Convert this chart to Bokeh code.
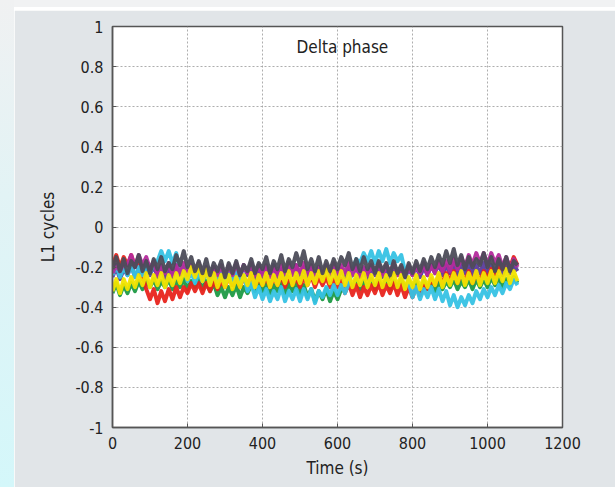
from bokeh.plotting import figure
from bokeh.models import FixedTicker, CustomJSTickFormatter, Label, Range1d, Spacer
from bokeh.layouts import row, column
from bokeh.embed import file_html
from bokeh.resources import INLINE

# ---------------- data ----------------
time_s = list(range(0, 1090, 10))  # 0 .. 1080 s, one sample every 10 s

series_blue = [
    -0.25, -0.20, -0.26, -0.21, -0.24, -0.19, -0.25, -0.21, -0.26, -0.20,
    -0.24, -0.19, -0.25, -0.20, -0.26, -0.21, -0.25, -0.19, -0.24, -0.20,
    -0.26, -0.21, -0.25, -0.20, -0.27, -0.22, -0.25, -0.20, -0.26, -0.21,
    -0.24, -0.20, -0.26, -0.21, -0.25, -0.19, -0.24, -0.20, -0.26, -0.21,
    -0.25, -0.20, -0.24, -0.19, -0.25, -0.21, -0.26, -0.20, -0.24, -0.19,
    -0.25, -0.20, -0.26, -0.21, -0.24, -0.20, -0.25, -0.19, -0.24, -0.20,
    -0.26, -0.21, -0.25, -0.20, -0.24, -0.19, -0.25, -0.21, -0.26, -0.20,
    -0.24, -0.19, -0.25, -0.20, -0.26, -0.21, -0.24, -0.20, -0.25, -0.21,
    -0.24, -0.19, -0.25, -0.20, -0.24, -0.19, -0.23, -0.18, -0.24, -0.19,
    -0.23, -0.18, -0.24, -0.19, -0.23, -0.18, -0.24, -0.19, -0.23, -0.18,
    -0.24, -0.19, -0.23, -0.18, -0.24, -0.19, -0.23, -0.19, -0.22,
]
series_green = [
    -0.33, -0.28, -0.34, -0.29, -0.33, -0.28, -0.32, -0.27, -0.31, -0.27,
    -0.30, -0.26, -0.31, -0.27, -0.30, -0.26, -0.31, -0.27, -0.30, -0.26,
    -0.31, -0.27, -0.30, -0.26, -0.31, -0.27, -0.32, -0.28, -0.34, -0.30,
    -0.35, -0.30, -0.34, -0.29, -0.35, -0.30, -0.33, -0.29, -0.32, -0.28,
    -0.32, -0.28, -0.33, -0.29, -0.32, -0.27, -0.33, -0.28, -0.32, -0.28,
    -0.33, -0.29, -0.35, -0.31, -0.37, -0.32, -0.36, -0.31, -0.37, -0.32,
    -0.36, -0.31, -0.32, -0.27, -0.30, -0.26, -0.31, -0.27, -0.30, -0.26,
    -0.31, -0.27, -0.30, -0.26, -0.31, -0.27, -0.30, -0.26, -0.31, -0.27,
    -0.30, -0.27, -0.32, -0.27, -0.31, -0.27, -0.32, -0.27, -0.31, -0.27,
    -0.30, -0.26, -0.31, -0.27, -0.30, -0.26, -0.31, -0.26, -0.30, -0.26,
    -0.30, -0.25, -0.29, -0.25, -0.30, -0.26, -0.29, -0.25, -0.28,
]
series_red = [
    -0.19, -0.14, -0.20, -0.15, -0.19, -0.14, -0.20, -0.16, -0.24, -0.31,
    -0.36, -0.31, -0.38, -0.32, -0.37, -0.31, -0.36, -0.30, -0.35, -0.30,
    -0.33, -0.28, -0.32, -0.28, -0.33, -0.28, -0.32, -0.27, -0.31, -0.27,
    -0.30, -0.25, -0.29, -0.25, -0.30, -0.25, -0.29, -0.24, -0.30, -0.25,
    -0.29, -0.25, -0.30, -0.25, -0.29, -0.24, -0.30, -0.25, -0.29, -0.25,
    -0.30, -0.25, -0.29, -0.24, -0.30, -0.25, -0.29, -0.25, -0.30, -0.26,
    -0.30, -0.26, -0.33, -0.28, -0.34, -0.29, -0.35, -0.30, -0.34, -0.29,
    -0.33, -0.28, -0.34, -0.29, -0.33, -0.28, -0.34, -0.29, -0.35, -0.30,
    -0.35, -0.30, -0.34, -0.29, -0.31, -0.26, -0.29, -0.24, -0.28, -0.23,
    -0.27, -0.22, -0.28, -0.23, -0.27, -0.22, -0.28, -0.23, -0.27, -0.22,
    -0.26, -0.21, -0.25, -0.20, -0.21, -0.16, -0.20, -0.15, -0.19,
]
series_cyan = [
    -0.24, -0.19, -0.25, -0.20, -0.24, -0.19, -0.25, -0.20, -0.24, -0.19,
    -0.23, -0.18, -0.17, -0.12, -0.17, -0.12, -0.18, -0.13, -0.22, -0.20,
    -0.27, -0.22, -0.28, -0.23, -0.27, -0.22, -0.28, -0.23, -0.27, -0.22,
    -0.28, -0.23, -0.27, -0.22, -0.28, -0.24, -0.32, -0.28, -0.35, -0.30,
    -0.36, -0.31, -0.37, -0.32, -0.36, -0.30, -0.37, -0.32, -0.36, -0.31,
    -0.37, -0.31, -0.36, -0.31, -0.38, -0.32, -0.35, -0.30, -0.34, -0.29,
    -0.34, -0.29, -0.33, -0.28, -0.22, -0.16, -0.18, -0.13, -0.17, -0.12,
    -0.18, -0.12, -0.17, -0.11, -0.18, -0.13, -0.17, -0.14, -0.22, -0.28,
    -0.35, -0.30, -0.36, -0.31, -0.35, -0.30, -0.36, -0.31, -0.37, -0.32,
    -0.39, -0.34, -0.40, -0.35, -0.39, -0.34, -0.38, -0.32, -0.36, -0.31,
    -0.35, -0.30, -0.34, -0.29, -0.33, -0.28, -0.31, -0.26, -0.29,
]
series_magenta = [
    -0.23, -0.19, -0.22, -0.18, -0.19, -0.14, -0.20, -0.14, -0.19, -0.15,
    -0.21, -0.17, -0.24, -0.19, -0.23, -0.18, -0.24, -0.19, -0.23, -0.18,
    -0.24, -0.19, -0.23, -0.18, -0.24, -0.20, -0.25, -0.20, -0.24, -0.19,
    -0.25, -0.19, -0.24, -0.18, -0.24, -0.19, -0.23, -0.18, -0.24, -0.19,
    -0.24, -0.19, -0.25, -0.20, -0.24, -0.19, -0.23, -0.18, -0.24, -0.19,
    -0.23, -0.18, -0.24, -0.19, -0.25, -0.20, -0.24, -0.19, -0.23, -0.18,
    -0.24, -0.19, -0.23, -0.18, -0.24, -0.19, -0.25, -0.20, -0.24, -0.19,
    -0.23, -0.18, -0.24, -0.19, -0.23, -0.18, -0.24, -0.20, -0.25, -0.19,
    -0.24, -0.19, -0.23, -0.18, -0.24, -0.19, -0.23, -0.17, -0.22, -0.17,
    -0.22, -0.16, -0.21, -0.15, -0.20, -0.14, -0.19, -0.13, -0.18, -0.13,
    -0.19, -0.13, -0.18, -0.14, -0.20, -0.15, -0.21, -0.16, -0.20,
]
series_yellow = [
    -0.32, -0.26, -0.33, -0.26, -0.31, -0.25, -0.30, -0.24, -0.29, -0.23,
    -0.30, -0.24, -0.29, -0.23, -0.30, -0.24, -0.29, -0.23, -0.28, -0.22,
    -0.26, -0.20, -0.25, -0.19, -0.27, -0.21, -0.29, -0.23, -0.30, -0.24,
    -0.30, -0.24, -0.31, -0.25, -0.30, -0.24, -0.29, -0.23, -0.30, -0.24,
    -0.29, -0.23, -0.30, -0.24, -0.29, -0.23, -0.28, -0.22, -0.29, -0.23,
    -0.28, -0.22, -0.29, -0.23, -0.28, -0.22, -0.27, -0.21, -0.28, -0.22,
    -0.28, -0.22, -0.29, -0.23, -0.30, -0.24, -0.29, -0.23, -0.30, -0.24,
    -0.29, -0.23, -0.30, -0.24, -0.29, -0.23, -0.30, -0.24, -0.31, -0.25,
    -0.30, -0.24, -0.31, -0.25, -0.30, -0.24, -0.29, -0.23, -0.30, -0.24,
    -0.29, -0.23, -0.28, -0.22, -0.29, -0.23, -0.28, -0.22, -0.29, -0.23,
    -0.28, -0.22, -0.28, -0.22, -0.27, -0.21, -0.28, -0.22, -0.27,
]
series_black = [
    -0.21, -0.15, -0.22, -0.16, -0.23, -0.17, -0.20, -0.14, -0.22, -0.17,
    -0.23, -0.16, -0.21, -0.15, -0.22, -0.18, -0.21, -0.14, -0.19, -0.12,
    -0.20, -0.15, -0.22, -0.17, -0.23, -0.16, -0.24, -0.18, -0.22, -0.17,
    -0.25, -0.18, -0.23, -0.17, -0.24, -0.19, -0.22, -0.16, -0.23, -0.18,
    -0.21, -0.15, -0.23, -0.17, -0.21, -0.14, -0.22, -0.16, -0.20, -0.13,
    -0.19, -0.12, -0.21, -0.16, -0.22, -0.15, -0.23, -0.17, -0.22, -0.16,
    -0.21, -0.15, -0.19, -0.13, -0.21, -0.16, -0.22, -0.15, -0.21, -0.17,
    -0.23, -0.17, -0.22, -0.18, -0.24, -0.17, -0.23, -0.19, -0.25, -0.18,
    -0.23, -0.17, -0.22, -0.16, -0.21, -0.15, -0.20, -0.14, -0.19, -0.12,
    -0.18, -0.11, -0.19, -0.14, -0.21, -0.15, -0.20, -0.16, -0.19, -0.13,
    -0.20, -0.15, -0.22, -0.16, -0.21, -0.15, -0.22, -0.17, -0.19,
]

# drawing order as in the original (later series on top)
series_list = [series_blue, series_green, series_red, series_cyan,
               series_magenta, series_yellow, series_black]
series_colors = ["#5a3c9c", "#1e9a44", "#e8241c", "#36c2e4",
                 "#b42a9c", "#f2e400", "#4c4c58"]

x_ticks = [0, 200, 400, 600, 800, 1000, 1200]
y_ticks = [-1.0, -0.8, -0.6, -0.4, -0.2, 0.0, 0.2, 0.4, 0.6, 0.8, 1.0]
chart_title = "Delta phase"
x_label = "Time (s)"
y_label = "L1 cycles"

# ---------------- figure ----------------
FONT = "DejaVu Sans Condensed, Liberation Sans Narrow, DejaVu Sans"

p = figure(width=601, height=477, output_backend="svg", toolbar_location=None,
           x_range=Range1d(0, 1200), y_range=Range1d(-1, 1),
           min_border_left=98, min_border_right=53,
           min_border_top=16, min_border_bottom=60,
           background_fill_color="#ffffff", border_fill_color="#e1e5e8",
           outline_line_color="#555555", outline_line_width=1.5)

for ys, col in zip(series_list, series_colors):
    p.line(time_s, ys, line_color=col, line_width=4, line_alpha=0.95,
           line_join="round")

# axes
for ax in (p.xaxis[0], p.yaxis[0]):
    ax.axis_line_color = "#555555"
    ax.axis_line_width = 1.5
    ax.major_tick_in = 4
    ax.major_tick_out = 0
    ax.minor_tick_line_color = None
    ax.major_tick_line_color = "#555555"
    ax.major_label_text_font = FONT
    ax.major_label_text_font_size = "16px"
    ax.major_label_text_color = "#222222"
    ax.axis_label_text_font = FONT
    ax.axis_label_text_font_size = "17px"
    ax.axis_label_text_font_style = "normal"
    ax.axis_label_text_color = "#222222"

p.xaxis.ticker = FixedTicker(ticks=x_ticks)
p.yaxis.ticker = FixedTicker(ticks=y_ticks)
p.yaxis.formatter = CustomJSTickFormatter(
    code="return String(Math.round(tick * 10) / 10);")
p.xaxis.axis_label = x_label
p.yaxis.axis_label = y_label
p.xaxis.major_label_standoff = 9
p.yaxis.major_label_standoff = 9
p.xaxis.axis_label_standoff = 6
p.yaxis.axis_label_standoff = 14

# grid
for g in (p.xgrid[0], p.ygrid[0]):
    g.grid_line_color = "#9a9a9a"
    g.grid_line_dash = "2 2"
    g.grid_line_width = 1
    g.grid_line_alpha = 0.8
p.xgrid.ticker = FixedTicker(ticks=x_ticks)
p.ygrid.ticker = FixedTicker(ticks=y_ticks)

# title inside the plot
title_label = Label(x=613, y=0.95, text=chart_title, text_align="center",
                    text_baseline="top", text_font=FONT,
                    text_font_size="17px", text_color="#222222")
p.add_layout(title_label)

# surrounding page decoration
left_strip = Spacer(width=14, height=487, styles={
    "background": "linear-gradient(to bottom, #f0f1f2 0%, #e2f3f5 40%, #d4f7fa 100%)"})
top_strip = Spacer(width=601, height=10, styles={
    "background": "linear-gradient(to bottom, #f1f2f3 0%, #f1f2f3 70%, #ffffff 70%, #ffffff 100%)"})

layout = row(left_strip, column(top_strip, p, spacing=0), spacing=0)

open("out.html", "w").write(file_html(layout, INLINE))
